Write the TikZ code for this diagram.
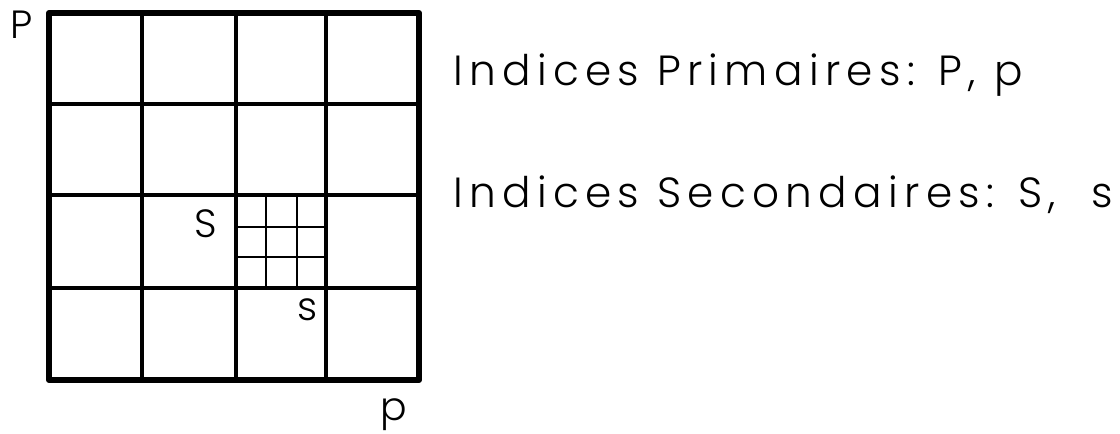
\documentclass[tikz,border=0pt]{standalone}
\usepackage{fontspec}
\setmainfont{Poppins}[UprightFont=* Light]
\begin{document}
\begin{tikzpicture}[x=0.025cm, y=-0.025cm,
  outer/.style={line width=4.4pt, line join=round},
  primary/.style={line width=2.4pt},
  secondary/.style={line width=1.1pt},
  idx/.style={inner sep=0pt, anchor=base west, font=\fontsize{28pt}{30pt}\selectfont},
  legend/.style={inner sep=0pt, anchor=base west, font=\fontsize{30pt}{32pt}\selectfont\addfontfeature{LetterSpace=15}}
]
  \useasboundingbox (0,0) rectangle (1120,434);

  %% secondary mesh inside one primary cell
  \foreach \x in {266,297} \draw[secondary] (\x,195) -- (\x,288);
  \foreach \y in {227,257} \draw[secondary] (236,\y) -- (326,\y);

  %% primary mesh
  \foreach \x in {142,236,326} \draw[primary] (\x,13) -- (\x,380);
  \foreach \y in {104,195,288} \draw[primary] (49,\y) -- (419,\y);
  \draw[outer] (49,13) rectangle (419,380);

  %% indices
  \node[idx] (P) at (10,38) {P};
  \node[idx] (S) at (194,237) {S};
  \node[idx] (s) at (297,320) {s};
  \node[idx] (p) at (380,420) {p};

  %% legend
  \node[legend] (prim) at (453,85) {Indices Primaires: P, p};
  \node[legend] (sec) at (453,207) {Indices Secondaires: S,\ \ s};
\end{tikzpicture}
\end{document}
